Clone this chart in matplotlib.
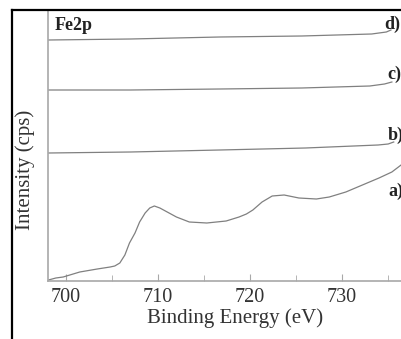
import matplotlib
matplotlib.use("Agg")
import matplotlib.pyplot as plt
from matplotlib.lines import Line2D
from matplotlib.ticker import MultipleLocator

# Binding energy (eV) and intensity (arbitrary units)
energy_a = [698.1, 698.9, 699.7, 701.5, 703.4, 704.8, 705.3, 705.85, 706.4, 706.9,
            707.5, 708.0, 708.6, 709.1, 709.6, 710.2, 711.0, 712.0, 713.4, 715.3,
            717.4, 718.8, 719.6, 720.3, 721.3, 722.4, 723.7, 725.3, 727.2, 728.6,
            730.4, 732.2, 734.0, 735.4, 736.4]
inten_a = [1, 3, 4, 9, 12, 14, 15, 18, 26, 38,
           48, 59, 68, 73, 75, 73, 69, 64, 59, 58,
           60, 64, 67, 71, 79, 85, 86, 83, 82, 84,
           89, 96, 103, 109, 116]

energy_b = [698.1, 707.0, 716.7, 726.0, 733.9, 735.0, 735.6]
inten_b = [128, 129, 131, 133, 136, 137, 139]

energy_c = [698.1, 707.0, 716.7, 725.6, 733.0, 734.6, 735.4]
inten_c = [191, 191, 192, 193, 195, 197, 199]

energy_d = [698.1, 707.0, 716.7, 725.6, 733.2, 734.8, 735.3]
inten_d = [241, 242, 244, 245, 247, 249, 251]

series_labels = ["a)", "b)", "c)", "d)"]
label_pos_x = [735.0, 734.9, 734.9, 734.6]
label_pos_y = [90, 146, 207, 257]

xticks_major = [700, 710, 720, 730]

W, H = 402, 339
fig = plt.figure(figsize=(W / 100, H / 100), dpi=100)
ax = fig.add_axes([48 / W, (H - 281) / H, 1 - 48 / W, (281 - 11) / H])

line_color = "#808080"
for ex, iy in [(energy_a, inten_a), (energy_b, inten_b), (energy_c, inten_c), (energy_d, inten_d)]:
    ax.plot(ex, iy, color=line_color, lw=0.9)

ax.set_xlim(698.05, 736.5)
ax.set_ylim(0, 270)

for s in ["top", "right"]:
    ax.spines[s].set_visible(False)
for s in ["left", "bottom"]:
    ax.spines[s].set_color("#a8a8a8")
    ax.spines[s].set_linewidth(1.2)

ax.set_xticks(xticks_major)
ax.xaxis.set_minor_locator(MultipleLocator(5))
ax.set_yticks([])
ax.tick_params(axis="x", which="major", direction="in", length=5, color="#a8a8a8", pad=5,
               labelsize=14.5, labelcolor="#333333")
ax.tick_params(axis="x", which="minor", direction="in", length=4, color="#a8a8a8")
for lab in ax.get_xticklabels():
    lab.set_fontfamily("Liberation Serif")

for lbl, lx, ly in zip(series_labels, label_pos_x, label_pos_y):
    ax.text(lx, ly, lbl, fontfamily="Liberation Serif", fontweight="bold", fontsize=13,
            ha="left", va="center", color="#222222", clip_on=False)

fig.text(55 / W, 1 - 25 / H, "Fe2p", fontfamily="Liberation Serif", fontweight="bold",
         fontsize=13, ha="left", va="center", color="#222222")

fig.text(235 / W, 1 - 318 / H, "Binding Energy (eV)", fontfamily="Liberation Serif",
         fontsize=15, ha="center", va="center", color="#333333")
fig.text(25 / W, 1 - 170 / H, "Intensity (cps)", fontfamily="Liberation Serif",
         fontsize=15, ha="center", va="center", rotation=90, color="#333333")

# outer panel frame
fig.add_artist(Line2D([12 / W, 12 / W], [0, 1 - 10 / H], transform=fig.transFigure,
                      color="black", lw=1.6))
fig.add_artist(Line2D([12 / W, 1], [1 - 10 / H, 1 - 10 / H], transform=fig.transFigure,
                      color="black", lw=1.6))

fig.savefig("out.png", dpi=100)
